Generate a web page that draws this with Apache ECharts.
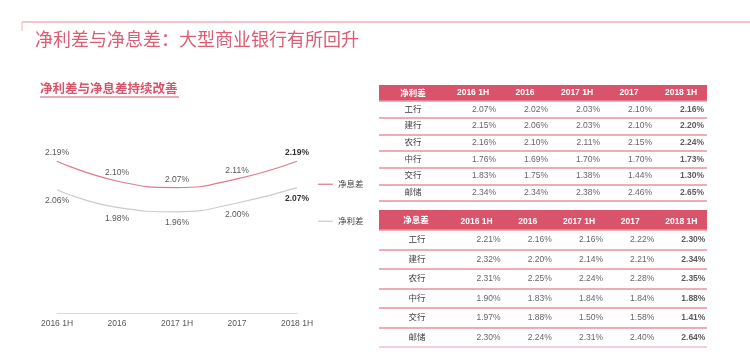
<!DOCTYPE html>
<html>
<head>
<meta charset="utf-8">
<script src="https://cdn.jsdelivr.net/npm/echarts@6/dist/echarts.min.js"></script>
<style>
html,body{margin:0;padding:0;background:#fff;}
#main{width:750px;height:357px;}
</style>
</head>
<body>
<div id="main"></div>
<script>
// ---- data ----
var titleText = '净利差与净息差：大型商业银行有所回升';
var subTitleText = '净利差与净息差持续改善';
var periods = ['2016 1H', '2016', '2017 1H', '2017', '2018 1H'];
var nimName = '净息差';
var nisName = '净利差';
var nimAvg = [2.19, 2.10, 2.07, 2.11, 2.19];
var nisAvg = [2.06, 1.98, 1.96, 2.00, 2.07];
var banks = ['工行', '建行', '农行', '中行', '交行', '邮储'];
var nisTable = [
  [2.07, 2.02, 2.03, 2.10, 2.16],
  [2.15, 2.06, 2.03, 2.10, 2.20],
  [2.16, 2.10, 2.11, 2.15, 2.24],
  [1.76, 1.69, 1.70, 1.70, 1.73],
  [1.83, 1.75, 1.38, 1.44, 1.30],
  [2.34, 2.34, 2.38, 2.46, 2.65]
];
var nimTable = [
  [2.21, 2.16, 2.16, 2.22, 2.30],
  [2.32, 2.20, 2.14, 2.21, 2.34],
  [2.31, 2.25, 2.24, 2.28, 2.35],
  [1.90, 1.83, 1.84, 1.84, 1.88],
  [1.97, 1.88, 1.50, 1.58, 1.41],
  [2.30, 2.24, 2.31, 2.40, 2.64]
];

// ---- styles ----
var FONT = "'Liberation Sans', 'Noto Sans CJK SC', sans-serif";
var PINK = '#d9536b';
var LINE_PINK = '#e07b8d';
var LINE_GREY = '#cccccc';
var TXT = '#404040';
var ROWLINE = '#e8919f';

function tableCells(tbl) {
  var out = [];
  for (var r = 0; r < tbl.length; r++) {
    for (var c = 0; c < tbl[r].length; c++) {
      out.push([c, r, tbl[r][c]]);
    }
  }
  return out;
}
function pct(v) { return v.toFixed(2) + '%'; }

function lineData(arr) {
  return arr.map(function (v, i) {
    var item = { value: v };
    if (i === arr.length - 1) {
      item.label = { fontWeight: 'bold', color: '#333' };
    }
    return item;
  });
}

var chart = echarts.init(document.getElementById('main'), null, { renderer: 'canvas' });

var tableXAxis = function (gi) {
  return {
    type: 'category', gridIndex: gi, data: periods, position: 'top',
    axisLine: { show: false }, axisTick: { show: false },
    axisLabel: { color: '#fff', fontWeight: 'bold', fontSize: 8.5, fontFamily: FONT, margin: 8, verticalAlign: 'middle', interval: 0 },
    splitLine: { show: false }
  };
};
var tableYAxis = function (gi) {
  return {
    type: 'category', gridIndex: gi, data: banks, inverse: true,
    axisLine: { show: false }, axisTick: { show: false },
    axisLabel: { color: TXT, fontSize: 8.5, fontFamily: FONT, margin: 34, align: 'center', interval: 0 },
    splitLine: { show: false }
  };
};
// full-width row rules, on background grids
var ruleXAxis = function (gi) {
  return { type: 'value', gridIndex: gi, show: false, min: 0, max: 1, splitLine: { show: false } };
};
var ruleYAxis = function (gi, lastColor) {
  var cols = [ROWLINE, ROWLINE, ROWLINE, ROWLINE, ROWLINE, ROWLINE, lastColor];
  return {
    type: 'category', gridIndex: gi, data: banks, inverse: true,
    axisLine: { show: false }, axisTick: { show: false }, axisLabel: { show: false },
    splitLine: { show: true, interval: 0, lineStyle: { color: cols, width: 1.5 } }
  };
};
var tableSeries = function (gi, tbl, off) {
  return {
    type: 'scatter', xAxisIndex: gi, yAxisIndex: gi,
    data: tableCells(tbl),
    symbolSize: 1,
    itemStyle: { color: 'rgba(0,0,0,0)' },
    silent: true,
    label: {
      show: true, position: 'inside', align: 'right', offset: [off, 0],
      fontFamily: FONT,
      formatter: function (p) {
        var s = pct(p.value[2]);
        return p.value[0] === periods.length - 1 ? '{b|' + s + '}' : '{a|' + s + '}';
      },
      rich: {
        a: { fontSize: 8.5, color: TXT, fontFamily: FONT },
        b: { fontSize: 8.5, color: '#333', fontWeight: 'bold', fontFamily: FONT }
      }
    }
  };
};

var option = {
  animation: false,
  backgroundColor: '#fff',
  textStyle: { fontFamily: FONT },
  graphic: [
    { type: 'line', shape: { x1: 22, y1: 22, x2: 750, y2: 22 }, style: { stroke: '#f0b3be', lineWidth: 1.5 } },
    { type: 'line', shape: { x1: 22, y1: 22, x2: 22, y2: 31 }, style: { stroke: '#f0b3be', lineWidth: 1 } },
    { type: 'text', left: 35, top: 30, style: { text: titleText, fill: '#dc5d74', font: "18px 'Noto Sans CJK SC', sans-serif" } },
    { type: 'text', left: 40, top: 82, style: { text: subTitleText, fill: PINK, font: "bold 12.5px 'Noto Sans CJK SC', sans-serif" } },
    { type: 'line', shape: { x1: 40, y1: 97, x2: 179, y2: 97 }, style: { stroke: PINK, lineWidth: 1 } },
    { type: 'rect', shape: { x: 379, y: 85, width: 328, height: 16 }, style: { fill: PINK }, z: -1 },
    { type: 'text', x: 413, y: 93, style: { text: nisName, fill: '#fff', font: "bold 8.5px 'Noto Sans CJK SC', sans-serif", textAlign: 'center', textVerticalAlign: 'middle' } },
    { type: 'rect', shape: { x: 379, y: 210, width: 328, height: 20 }, style: { fill: PINK }, z: -1 },
    { type: 'text', x: 416, y: 220, style: { text: nimName, fill: '#fff', font: "bold 8.5px 'Noto Sans CJK SC', sans-serif", textAlign: 'center', textVerticalAlign: 'middle' } }
  ],
  legend: [
    { data: [nimName], left: 318, top: 180, padding: 0, icon: 'rect', itemWidth: 15, itemHeight: 1.2, itemGap: 5,
      textStyle: { fontSize: 8.5, color: TXT, fontFamily: FONT } },
    { data: [nisName], left: 318, top: 217, padding: 0, icon: 'rect', itemWidth: 15, itemHeight: 1.2, itemGap: 5,
      textStyle: { fontSize: 8.5, color: TXT, fontFamily: FONT } }
  ],
  grid: [
    { left: 57, right: 453, top: 137, bottom: 44 },
    { left: 447, right: 43, top: 101, height: 100 },
    { left: 451, right: 43, top: 230, height: 117 },
    { left: 379, right: 43, top: 101, height: 100 },
    { left: 379, right: 43, top: 230, height: 117 }
  ],
  xAxis: [
    {
      type: 'category', gridIndex: 0, data: periods, boundaryGap: false,
      axisLine: { lineStyle: { color: '#d9d9d9', width: 1 } },
      axisTick: { show: false },
      axisLabel: { color: '#595959', fontSize: 8.5, fontFamily: FONT, margin: 6, interval: 0 }
    },
    tableXAxis(1),
    tableXAxis(2),
    ruleXAxis(3),
    ruleXAxis(4)
  ],
  yAxis: [
    { type: 'value', gridIndex: 0, min: 1.5, max: 2.3, show: false, splitLine: { show: false } },
    tableYAxis(1),
    tableYAxis(2),
    ruleYAxis(3, ROWLINE),
    ruleYAxis(4, '#f2bcc6')
  ],
  series: [
    {
      name: nimName, type: 'line', xAxisIndex: 0, yAxisIndex: 0, smooth: true,
      data: lineData(nimAvg), symbol: 'circle', symbolSize: 0,
      color: LINE_PINK, lineStyle: { color: LINE_PINK, width: 1.2 },
      label: { show: true, position: 'top', distance: 4, color: '#595959', fontSize: 8.5, fontFamily: FONT, formatter: function (p) { return pct(p.value); } }
    },
    {
      name: nisName, type: 'line', xAxisIndex: 0, yAxisIndex: 0, smooth: true,
      data: lineData(nisAvg), symbol: 'circle', symbolSize: 0,
      color: LINE_GREY, lineStyle: { color: LINE_GREY, width: 1.2 },
      label: { show: true, position: 'bottom', distance: 7, color: '#595959', fontSize: 8.5, fontFamily: FONT, formatter: function (p) { return pct(p.value); } }
    },
    tableSeries(1, nisTable, 23),
    tableSeries(2, nimTable, 24)
  ]
};
chart.setOption(option);
</script>
</body>
</html>
